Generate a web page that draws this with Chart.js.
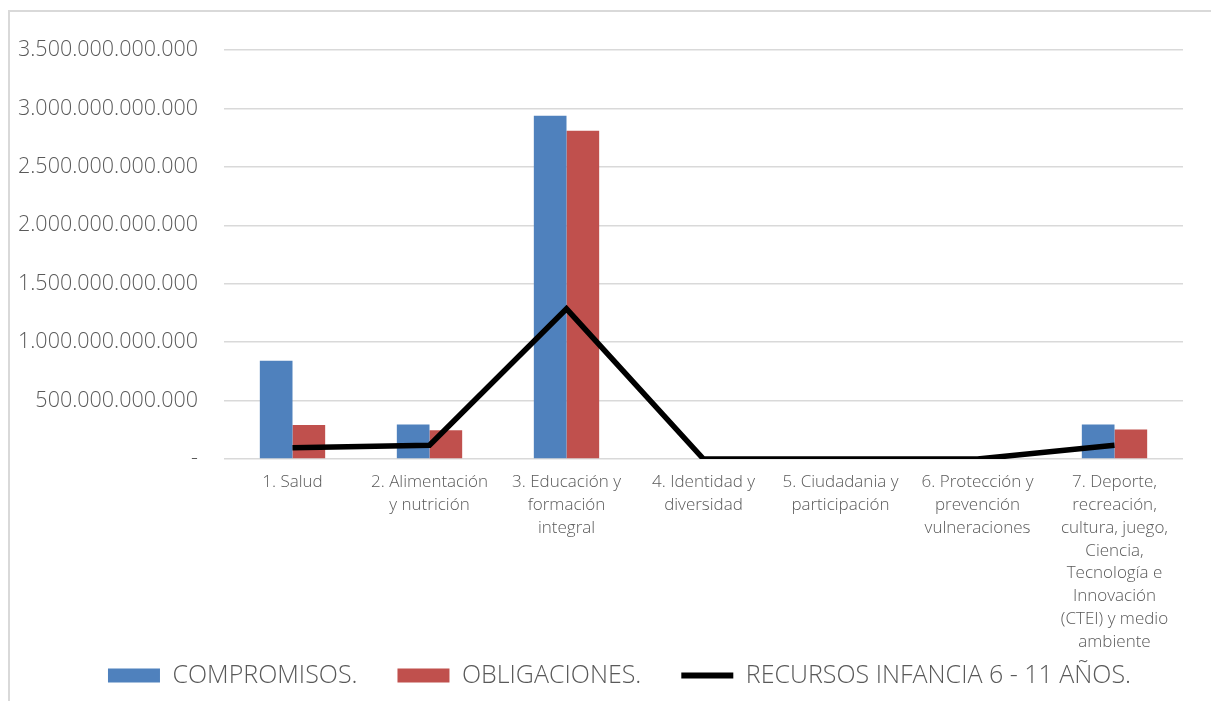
<!DOCTYPE html>
<html lang="es">
<head>
<meta charset="utf-8">
<title>Recursos infancia 6 - 11 años</title>
<script src="https://cdn.jsdelivr.net/npm/chart.js@4.4.1/dist/chart.umd.min.js"></script>
<style>
    html, body { margin: 0; padding: 0; background: #fff; overflow: hidden; }
    #frame {
        position: absolute; left: 8px; top: 10px; width: 1300px; height: 800px;
        border-left: 2px solid #d9d9d9; border-top: 2px solid #d9d9d9;
    }
    #wrap { position: absolute; left: 0; top: 0; width: 1211px; height: 698px; }
</style>
</head>
<body>
<div id="frame"></div>
<div id="wrap"><canvas id="chart"></canvas></div>
<script>
// categorías (eje x), una línea por renglón de la etiqueta
const categorias = [
    ['1. Salud'],
    ['2. Alimentación', 'y nutrición'],
    ['3. Educación y', 'formación', 'integral'],
    ['4. Identidad y', 'diversidad'],
    ['5. Ciudadania y', 'participación'],
    ['6. Protección y', 'prevención', 'vulneraciones'],
    ['7. Deporte,', 'recreación,', 'cultura, juego,', 'Ciencia,', 'Tecnología e', 'Innovación', '(CTEI) y medio', 'ambiente']
];

// valores (pesos)
const compromisos  = [840e9, 295e9, 2938e9, 0, 0, 0, 295e9];
const obligaciones = [291e9, 247e9, 2810e9, 0, 0, 0, 253e9];
const recursos     = [97e9, 118e9, 1285e9, 0, 0, 0, 118e9];

const ejeMin = 0;
const ejeMax = 3500e9;
const ejePaso = 500e9;

const nombres = ['COMPROMISOS.', 'OBLIGACIONES.', 'RECURSOS INFANCIA 6 - 11 AÑOS.'];

const FONT = '"Open Sans", "DejaVu Sans", sans-serif';
const GRIS = '#595959';

function formatoMiles(v) {
    if (v === 0) return '-';
    return Math.round(v).toString().replace(/\B(?=(\d{3})+(?!\d))/g, '.');
}

// las etiquetas de los ejes salen de su caja (eje x sobre la leyenda,
// eje y sobre el margen izquierdo): se amplía el recorte hasta el lienzo
const etiquetasLargas = {
    id: 'etiquetasLargas',
    afterLayout(chart) {
        chart.scales.x.bottom = chart.height;
        chart.scales.y.left = 0;
    }
};

new Chart(document.getElementById('chart'), {
    type: 'bar',
    data: {
        labels: categorias,
        datasets: [
            {
                label: nombres[0],
                data: compromisos,
                backgroundColor: '#4f81bd',
                borderWidth: 0,
                order: 0
            },
            {
                label: nombres[1],
                data: obligaciones,
                backgroundColor: '#c0504d',
                borderWidth: 0,
                order: 0
            },
            {
                type: 'line',
                label: nombres[2],
                data: recursos,
                borderColor: '#000',
                backgroundColor: '#000',
                borderWidth: 5.5,
                pointRadius: 0,
                tension: 0,
                order: -1
            }
        ]
    },
    plugins: [etiquetasLargas],
    options: {
        responsive: true,
        maintainAspectRatio: false,
        animation: false,
        layout: { padding: { top: 50, right: 28, left: 56, bottom: 0 } },
        datasets: {
            bar: { categoryPercentage: 0.477, barPercentage: 1 }
        },
        plugins: {
            tooltip: { enabled: false },
            legend: {
                position: 'bottom',
                labels: {
                    usePointStyle: true,
                    pointStyleWidth: 52,
                    boxWidth: 52,
                    boxHeight: 14,
                    padding: 40,
                    color: GRIS,
                    font: { family: FONT, size: 25, weight: '300' },
                    sort: (a, b) => a.datasetIndex - b.datasetIndex,
                    generateLabels: chart => {
                        const items = Chart.defaults.plugins.legend.labels.generateLabels(chart);
                        return items.map(item => {
                            if (item.datasetIndex === 2) {
                                item.pointStyle = 'line';
                                item.strokeStyle = '#000';
                                item.lineWidth = 6;
                            } else {
                                item.pointStyle = 'rect';
                                item.lineWidth = 0;
                            }
                            return item;
                        });
                    }
                }
            }
        },
        scales: {
            x: {
                grid: { display: false, drawTicks: false },
                border: { display: false },
                afterFit: scale => { scale.height = 164; },
                ticks: {
                    color: GRIS,
                    padding: 12,
                    maxRotation: 0,
                    autoSkip: false,
                    font: { family: FONT, size: 17, weight: '300', lineHeight: 1.34 }
                }
            },
            y: {
                min: ejeMin,
                max: ejeMax,
                grid: { color: '#d9d9d9', lineWidth: 1.5, drawTicks: false },
                border: { display: false },
                afterFit: scale => { scale.width = 168; },
                ticks: {
                    stepSize: ejePaso,
                    color: GRIS,
                    padding: 26,
                    font: { family: FONT, size: 21.5, weight: '300' },
                    callback: v => formatoMiles(v)
                }
            }
        }
    }
});
</script>
</body>
</html>
